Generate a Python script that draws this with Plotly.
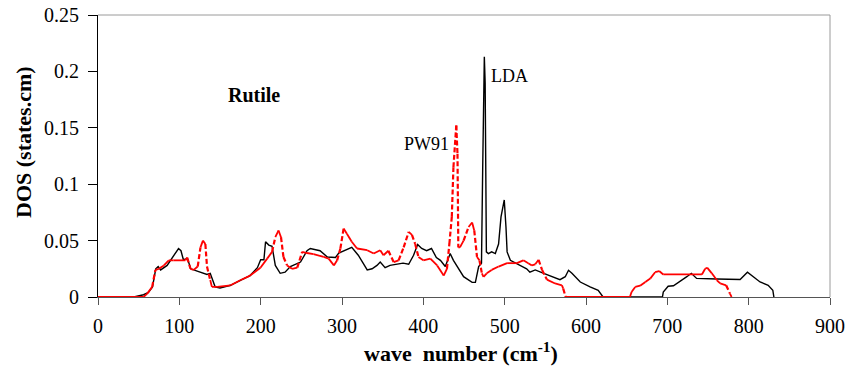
import plotly.graph_objects as go

# Phonon density of states of rutile TiO2: LDA vs PW91
lda_wn = [0, 44, 56, 62, 67, 71, 74, 77, 85, 93, 99, 102, 105, 110, 114, 122, 134, 138, 142, 144,
          150, 163, 175, 187, 196, 200, 204, 206, 210, 214, 218, 224, 230, 236.5, 249, 257, 261,
          273, 282, 292, 296, 302, 312, 320, 331, 337, 343, 347, 353, 359, 366, 375, 382, 388, 393,
          398, 404, 410, 416, 421, 427, 433, 437, 449.5, 460, 464, 468, 471.5, 473, 475, 476, 477.5,
          480, 484, 488.5, 492.5, 495.5, 499.5, 501.6, 503, 507, 519, 527, 531, 537.6, 548, 556,
          568, 574.5, 578.5, 582.7, 593, 605, 615, 621, 694, 695, 701, 707.5, 716, 724, 729.5,
          736, 761, 789.5, 798.5, 806, 814, 824, 829.7, 831]
lda_dos = [0, 0, 0.002, 0.004, 0.009, 0.025, 0.027, 0.024, 0.028, 0.037, 0.043, 0.041, 0.033, 0.034,
           0.025, 0.023, 0.020, 0.021, 0.013, 0.009, 0.008, 0.0104, 0.0148, 0.019, 0.026, 0.033,
           0.033, 0.049, 0.046, 0.045, 0.028, 0.021, 0.022, 0.027, 0.031, 0.041, 0.043, 0.041,
           0.0355, 0.035, 0.039, 0.041, 0.044, 0.037, 0.024, 0.025, 0.028, 0.031, 0.026, 0.028,
           0.029, 0.030, 0.029, 0.037, 0.0465, 0.043, 0.041, 0.043, 0.035, 0.0325, 0.027, 0.0385,
           0.0325, 0.018, 0.013, 0.013, 0.027, 0.03, 0.115, 0.213, 0.19, 0.04, 0.0385, 0.040,
           0.0385, 0.047, 0.071, 0.086, 0.062, 0.040, 0.0325, 0.028, 0.025, 0.022, 0.024, 0.021,
           0.019, 0.0154, 0.018, 0.0237, 0.021, 0.0133, 0.0089, 0.006, 0, 0, 0.0044, 0.0095,
           0.010, 0.0138, 0.018, 0.021, 0.0165, 0.016, 0.0155, 0.022, 0.0178, 0.0133, 0.0104,
           0.006, 0]

pw91_wn = [0, 56, 60.5, 66.6, 70.6, 74.7, 81, 87, 93, 107.5, 109.6, 113.7, 117.7, 122.6, 126, 129,
           132, 134, 138, 140, 146.5, 163, 175, 187, 199.7, 208, 214, 218, 222, 225, 228, 232.5,
           238.6, 245, 251, 257, 265, 277.5, 283.6, 290, 294, 298, 302, 306, 312, 318.5, 331, 339,
           347, 351, 357, 363.5, 369.6, 375.8, 382, 386, 390, 394, 400, 408.6, 417, 425, 429, 432,
           435, 437, 440.5, 442, 443, 445, 449.5, 455.6, 460, 462.6, 466, 469, 472, 474, 478, 484,
           492.5, 503, 515, 523, 529, 533.5, 537.6, 541.7, 546, 552, 562, 570.4, 572, 575, 654,
           656, 660.5, 666.6, 673, 679, 685, 690, 695, 742.5, 746.5, 749, 754.7, 761, 765, 772.3,
           777, 779]
pw91_dos = [0, 0, 0.003, 0.009, 0.024, 0.025, 0.028, 0.0325, 0.0325, 0.0325, 0.035, 0.025, 0.024,
            0.027, 0.044, 0.050, 0.047, 0.027, 0.015, 0.009, 0.009, 0.0104, 0.0148, 0.019, 0.026,
            0.034, 0.040, 0.053, 0.059, 0.053, 0.0355, 0.028, 0.025, 0.026, 0.040, 0.039, 0.038,
            0.0355, 0.034, 0.028, 0.0325, 0.043, 0.0607, 0.056, 0.049, 0.043, 0.0415, 0.0385,
            0.0415, 0.037, 0.041, 0.031, 0.0325, 0.044, 0.0577, 0.055, 0.047, 0.0355, 0.0325,
            0.034, 0.028, 0.019, 0.025, 0.047, 0.071, 0.115, 0.152, 0.127, 0.044, 0.044, 0.050,
            0.062, 0.066, 0.059, 0.0355, 0.0325, 0.021, 0.0178, 0.021, 0.024, 0.027, 0.030, 0.030,
            0.0325, 0.030, 0.028, 0.029, 0.033, 0.024, 0.0154, 0.012, 0.0104, 0.0074, 0, 0,
            0.0044, 0.0089, 0.010, 0.0133, 0.0163, 0.022, 0.023, 0.020, 0.020, 0.025, 0.026,
            0.021, 0.0148, 0.012, 0.0104, 0.003, 0]

x_ticks = [0, 100, 200, 300, 400, 500, 600, 700, 800, 900]
y_ticks = [0, 0.05, 0.1, 0.15, 0.2, 0.25]
y_tick_text = ["0", "0.05", "0.1", "0.15", "0.2", "0.25"]

SERIF = "Liberation Serif"
X_RANGE = [0, 900]
Y_RANGE = [0, 0.25]
PLOT_W, PLOT_H = 732, 282


def split_by_steepness(xs, ys, ratio=1.6):
    """Separate a polyline into gentle and steep segments (in screen units),
    so the steep flanks can be drawn with a dash pattern."""
    sx = PLOT_W / (X_RANGE[1] - X_RANGE[0])
    sy = PLOT_H / (Y_RANGE[1] - Y_RANGE[0])
    flat_x, flat_y, steep_x, steep_y = [], [], [], []
    for i in range(len(xs) - 1):
        dx = abs(xs[i + 1] - xs[i]) * sx
        dy = abs(ys[i + 1] - ys[i]) * sy
        if dy > ratio * dx and dy > 8:
            steep_x += [xs[i], xs[i + 1], None]
            steep_y += [ys[i], ys[i + 1], None]
        else:
            flat_x += [xs[i], xs[i + 1], None]
            flat_y += [ys[i], ys[i + 1], None]
    return flat_x, flat_y, steep_x, steep_y


fig = go.Figure()
fig.add_trace(go.Scatter(x=lda_wn, y=lda_dos, mode="lines", name="LDA",
                         line=dict(color="#000000", width=1.4)))

pf_x, pf_y, ps_x, ps_y = split_by_steepness(pw91_wn, pw91_dos)
fig.add_trace(go.Scatter(x=pf_x, y=pf_y, mode="lines", name="PW91",
                         line=dict(color="#ff0000", width=1.8)))
fig.add_trace(go.Scatter(x=ps_x, y=ps_y, mode="lines", name="PW91",
                         line=dict(color="#ff0000", width=2.2, dash="5px,2.5px")))

fig.update_layout(
    width=849, height=374,
    margin=dict(l=98, r=19, t=15, b=77),
    paper_bgcolor="white", plot_bgcolor="white",
    showlegend=False,
    font=dict(family=SERIF, color="black"),
)
fig.update_xaxes(range=X_RANGE, tickvals=x_ticks, showgrid=False, zeroline=False,
                 automargin=False,
                 showline=True, linecolor="#555555", linewidth=1,
                 ticks="outside", ticklen=7, tickcolor="#555555",
                 tickfont=dict(family=SERIF, size=20), ticklabelstandoff=4)
fig.update_yaxes(range=Y_RANGE, tickvals=y_ticks, ticktext=y_tick_text, showgrid=False,
                 zeroline=False, automargin=False,
                 showline=True, linecolor="black", linewidth=1,
                 ticks="outside", ticklen=9, tickcolor="black",
                 tickfont=dict(family=SERIF, size=20), ticklabelstandoff=5)

# top and right border of the plotting area
fig.add_shape(type="line", xref="paper", yref="paper", x0=0, x1=1, y0=1, y1=1,
              line=dict(color="#9a9a9a", width=1))
fig.add_shape(type="line", xref="paper", yref="paper", x0=1, x1=1, y0=0, y1=1,
              line=dict(color="#9a9a9a", width=1))

# axis titles
fig.add_annotation(xref="paper", yref="paper", x=0.496, y=-0.196, showarrow=False,
                   text="<b>wave  number (cm<sup>-1</sup>)</b>",
                   font=dict(family=SERIF, size=22), xanchor="center", yanchor="middle")
fig.add_annotation(xref="paper", yref="paper", x=-0.101, y=0.55, showarrow=False,
                   text="<b>DOS (states.cm)</b>", textangle=-90,
                   font=dict(family=SERIF, size=22), xanchor="center", yanchor="middle")

# in-plot labels
fig.add_annotation(x=192.3, y=0.179, text="<b>Rutile</b>", showarrow=False,
                   font=dict(family=SERIF, size=20))
fig.add_annotation(x=403.7, y=0.136, text="PW91", showarrow=False,
                   font=dict(family=SERIF, size=18))
fig.add_annotation(x=505.6, y=0.196, text="LDA", showarrow=False,
                   font=dict(family=SERIF, size=18))

fig.write_html("out.html")
